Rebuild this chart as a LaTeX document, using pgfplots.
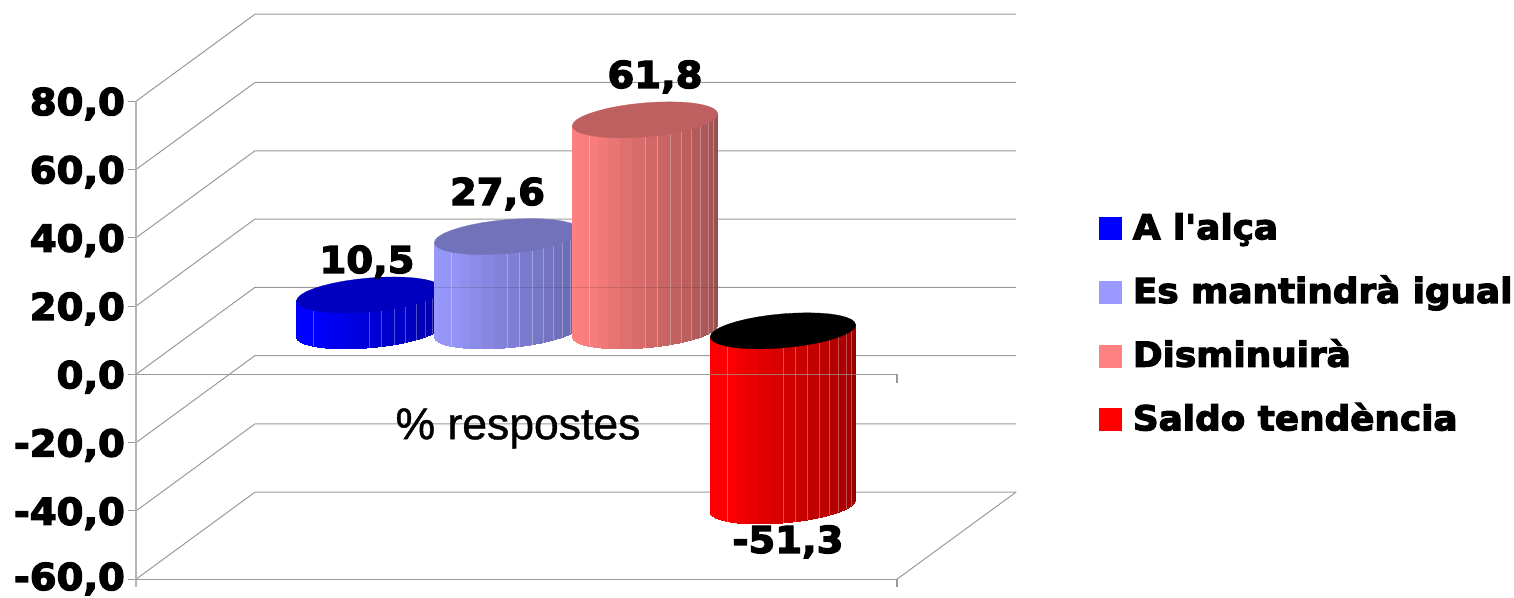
\documentclass[border=0pt]{standalone}
\usepackage{fontspec}
\setmainfont{DejaVu Sans}[Ligatures=TeXOff,BoldFeatures={FakeBold=3.5,FakeStretch=1.04}]
\newfontfamily\libsans{Liberation Sans}[FakeBold=1.0]
\usepackage{pgfplots}
\usepackage{pgfplotstable}
\usepgfplotslibrary{patchplots}
\pgfplotsset{compat=1.18}
\definecolor{gridc}{HTML}{9A9A9A}
\definecolor{axisc}{HTML}{B4B4B4}
\pgfplotsset{
 colormap={cblue}{rgb255(0)=(0,0,255) rgb255(4)=(0,0,255) rgb255(9)=(0,0,212) rgb255(17)=(0,0,158)},
 colormap={clight}{rgb255(0)=(153,153,255) rgb255(4)=(148,148,245) rgb255(9)=(126,126,212) rgb255(17)=(98,98,165)},
 colormap={cpink}{rgb255(0)=(255,128,128) rgb255(4)=(248,124,124) rgb255(9)=(208,104,104) rgb255(17)=(150,78,78)},
 colormap={cred}{rgb255(0)=(255,0,0) rgb255(4)=(250,0,0) rgb255(9)=(208,0,0) rgb255(17)=(150,0,0)},
 colormap={cseam}{rgb255(0)=(255,255,255) rgb255(17)=(255,255,255)},
}
% One facet of the cylinder side: dx (px), dy (units), h (0 base / 1 top), m (shade index)
\pgfplotstableread{
dx dy h m
-72.7 -1.76 0 0
-71.6 -2.60 0 0
-71.6 -2.60 1 0
-72.7 -1.76 1 0
-71.6 -2.60 0 1
-68.3 -3.36 0 1
-68.3 -3.36 1 1
-71.6 -2.60 1 1
-68.3 -3.36 0 2
-63.0 -4.01 0 2
-63.0 -4.01 1 2
-68.3 -3.36 1 2
-63.0 -4.01 0 3
-55.7 -4.55 0 3
-55.7 -4.55 1 3
-63.0 -4.01 1 3
-55.7 -4.55 0 4
-46.7 -4.95 0 4
-46.7 -4.95 1 4
-55.7 -4.55 1 4
-46.7 -4.95 0 5
-36.4 -5.19 0 5
-36.4 -5.19 1 5
-46.7 -4.95 1 5
-36.4 -5.19 0 6
-24.9 -5.28 0 6
-24.9 -5.28 1 6
-36.4 -5.19 1 6
-24.9 -5.28 0 7
-12.6 -5.21 0 7
-12.6 -5.21 1 7
-24.9 -5.28 1 7
-12.6 -5.21 0 8
0 -4.98 0 8
0 -4.98 1 8
-12.6 -5.21 1 8
0 -4.98 0 9
12.6 -4.60 0 9
12.6 -4.60 1 9
0 -4.98 1 9
12.6 -4.60 0 10
24.9 -4.08 0 10
24.9 -4.08 1 10
12.6 -4.60 1 10
24.9 -4.08 0 11
36.4 -3.43 0 11
36.4 -3.43 1 11
24.9 -4.08 1 11
36.4 -3.43 0 12
46.7 -2.68 0 12
46.7 -2.68 1 12
36.4 -3.43 1 12
46.7 -2.68 0 13
55.7 -1.85 0 13
55.7 -1.85 1 13
46.7 -2.68 1 13
55.7 -1.85 0 14
63.0 -0.97 0 14
63.0 -0.97 1 14
55.7 -1.85 1 14
63.0 -0.97 0 15
68.3 -0.05 0 15
68.3 -0.05 1 15
63.0 -0.97 1 15
68.3 -0.05 0 16
71.6 0.87 0 16
71.6 0.87 1 16
68.3 -0.05 1 16
71.6 0.87 0 17
72.7 1.76 0 17
72.7 1.76 1 17
71.6 0.87 1 17
}\facets
\pgfplotstableread{
dx dy h m
-55.7 -4.55 0 0
-55.7 -4.55 1 0
0 -4.98 0 0
0 -4.98 1 0
12.6 -4.60 0 0
12.6 -4.60 1 0
24.9 -4.08 0 0
24.9 -4.08 1 0
36.4 -3.43 0 0
36.4 -3.43 1 0
46.7 -2.68 0 0
46.7 -2.68 1 0
55.7 -1.85 0 0
55.7 -1.85 1 0
63.0 -0.97 0 0
63.0 -0.97 1 0
68.3 -0.05 0 0
68.3 -0.05 1 0
}\seams
\pgfplotstableread{
dx dy
-72.7 -1.76
-71.6 -2.60
-68.3 -3.36
-63.0 -4.01
-55.7 -4.55
-46.7 -4.95
-36.4 -5.19
-24.9 -5.28
-12.6 -5.21
0 -4.98
12.6 -4.60
24.9 -4.08
36.4 -3.43
46.7 -2.68
55.7 -1.85
63.0 -0.97
68.3 -0.05
71.6 0.87
72.7 1.76
71.6 2.60
68.3 3.36
63.0 4.01
55.7 4.55
46.7 4.95
36.4 5.19
24.9 5.28
12.6 5.21
0 4.98
-12.6 4.60
-24.9 4.08
-36.4 3.43
-46.7 2.68
-55.7 1.85
-63.0 0.97
-68.3 0.05
-71.6 -0.87
}\capring
% #1 centre x, #2 value, #3 colormap, #4 cap colour, #5 level of the cap
\newcommand\cyl[5]{%
 \addplot[forget plot,patch,patch type=rectangle,shader=flat,colormap name=#3,line width=0pt,point meta=explicit]
   table[x expr=\thisrow{dx}+#1,y expr=\thisrow{dy}+12.75+\thisrow{h}*(#2),meta=m] {\facets};
 \addplot[forget plot,patch,patch type=line,colormap name=cseam,opacity=.3,line width=.7pt,point meta=explicit]
   table[x expr=\thisrow{dx}+#1,y expr=\thisrow{dy}+12.75+\thisrow{h}*(#2),meta=m] {\seams};
 \addplot[forget plot,fill=#4,draw=#4,line width=.3pt]
   table[x expr=\thisrow{dx}+#1,y expr=\thisrow{dy}+12.75+(#5)] {\capring} --cycle;
}
\newcommand\lab{\fontsize{37}{40}\selectfont\bfseries}
\begin{document}
\begin{tikzpicture}
\useasboundingbox (-136pt,-17.8pt) rectangle (1378pt,579.2pt);
\begin{axis}[
 scale only axis,width=880pt,height=565pt,
 xmin=136,xmax=1016,ymin=-60,ymax=105.5,
 clip=false,hide x axis,axis y line*=left,
 axis line style={draw=none},
 point meta min=0,point meta max=17,
 ytick={-40,-20,0,20,40,60,80},
 yticklabels={{-40,0},{-20,0},{0,0},{20,0},{40,0},{60,0},{80,0}},
 extra y ticks={-60},
 extra y tick labels={-60{,}0},
 extra y tick style={yticklabel style={yshift=3pt}},
 yticklabel style={font=\lab,anchor=base east,yshift=-13.8pt,inner sep=0pt,xshift=-3pt},
 major tick length=8pt,tick align=outside,
 ytick style={draw=gridc,line width=1pt},
 legend cell align=left,
 legend image code/.code={\fill[#1,draw=none] (0pt,-10pt) rectangle (23pt,13pt); \path[draw=none,fill=none] (0pt,0pt) -- (34pt,0pt);},
 legend style={at={(axis description cs:1.094,0.648)},anchor=north west,draw=none,fill=none,
   font=\fontsize{34.4}{38}\selectfont\bfseries,row sep=29.7pt,inner sep=0pt,
   nodes={inner sep=0pt,text height=26pt,text depth=8pt}},
]
\addlegendimage{fill=blue}
\addlegendentry{A l'alça}
\addlegendimage{fill={rgb,255:red,153;green,153;blue,255}}
\addlegendentry{Es mantindrà igual}
\addlegendimage{fill={rgb,255:red,255;green,128;blue,128}}
\addlegendentry{Disminuirà}
\addlegendimage{fill=red}
\addlegendentry{Saldo tendència}
% walls and floor
\pgfplotsinvokeforeach{-60,-40,-20,0,20,40,60,80}{
 \addplot[forget plot,gridc,line width=1pt] coordinates {(136,#1) (255,#1+25.5) (1016,#1+25.5)};
}
\addplot[forget plot,axisc,line width=1.6pt] coordinates {(136,-62.3) (136,80)};
\addplot[forget plot,gridc,line width=1.2pt] coordinates {(136,0) (897,0) (897,-2.4)};
\addplot[forget plot,gridc,line width=1.2pt] coordinates {(136,-60) (897,-60) (897,-62.3)};
\addplot[forget plot,gridc,line width=1pt] coordinates {(897,-60) (1016,-34.5)};
% series
\cyl{369.2}{10.5}{cblue}{{rgb,255:red,0;green,0;blue,190}}{10.5}
\cyl{507.1}{27.6}{clight}{{rgb,255:red,114;green,114;blue,187}}{27.6}
\cyl{645.0}{61.8}{cpink}{{rgb,255:red,190;green,96;blue,96}}{61.8}
\cyl{782.9}{-51.3}{cred}{black}{0}
% grid seen through the bars
\addplot[forget plot,black,opacity=.12,line width=1pt] coordinates {(434,25.5) (717,25.5)};
\addplot[forget plot,gridc,opacity=.7,line width=1.2pt] coordinates {(710,0) (855.6,0)};
% labels
\node[font=\lab,anchor=base] at (axis cs:367,29.7) {10,5};
\node[font=\lab,anchor=base] at (axis cs:497.5,49.6) {27,6};
\node[font=\lab,anchor=base] at (axis cs:655,83.9) {61,8};
\node[font=\lab,anchor=base] at (axis cs:788,-52.3) {-51,3};
\node[font=\fontsize{44.5}{48}\selectfont\libsans,anchor=base] at (axis cs:518,-19.0) {\% respostes};
\end{axis}
\end{tikzpicture}
\end{document}
